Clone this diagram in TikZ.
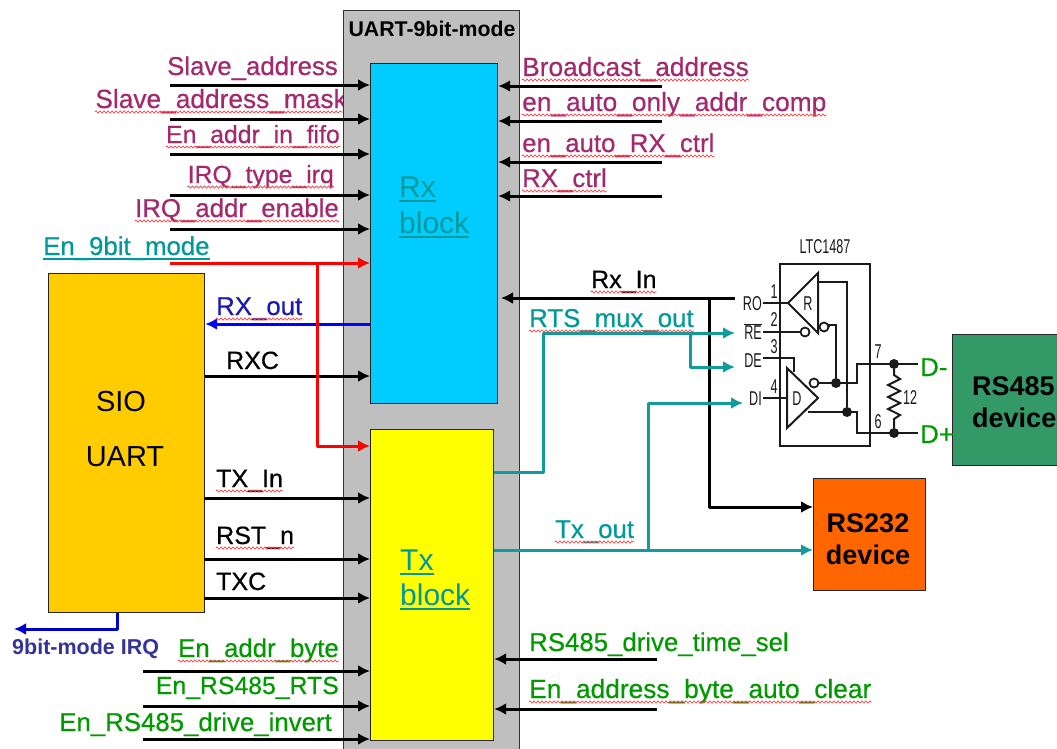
\documentclass[tikz,border=0pt]{standalone}
\usepackage{fontspec}
\setmainfont{Liberation Sans}
\newfontfamily\heavy[FakeBold=0.5]{Liberation Sans}
\usetikzlibrary{arrows.meta,decorations.pathmorphing}
\definecolor{lblpurple}{HTML}{A3286C}
\definecolor{lblgreen}{HTML}{009900}
\definecolor{lblteal}{HTML}{009999}
\definecolor{wireteal}{HTML}{119C9C}
\definecolor{lblblue}{HTML}{1A1AB3}
\definecolor{irqblue}{HTML}{333399}
\definecolor{chipink}{HTML}{1A1A1A}
\definecolor{rxfill}{HTML}{00CCFF}
\definecolor{txfill}{HTML}{FFFF00}
\definecolor{siofill}{HTML}{FFCC00}
\definecolor{rstwo}{HTML}{FF6600}
\definecolor{rsfour}{HTML}{339966}
\definecolor{bandfill}{HTML}{BFBFBF}
\tikzset{
  lbl/.style={inner sep=0pt,font=\heavy\fontsize{25.8}{26}\selectfont},
  big/.style={font=\heavy\fontsize{26.3}{26}\selectfont},
  small/.style={font=\heavy\fontsize{24.8}{25}\selectfont},
  lblk/.style={inner sep=0pt,anchor=base west,font=\heavy\fontsize{25}{25}\selectfont},
  lw/.style={lbl,anchor=base west},
  le/.style={lbl,anchor=base east},
  block/.style={draw=black!85,line width=1.2pt,inner sep=0pt,anchor=north west},
  arr/.style={line width=3pt,-{Latex[length=12pt,width=12pt]},line join=round},
  chip/.style={line width=2pt,chipink,line join=miter},
  chiptxt/.style={inner sep=0pt,chipink,font=\fontsize{20}{20}\selectfont},
  bubble/.style={circle,draw=chipink,line width=1.8pt,fill=white,minimum size=9pt,inner sep=0pt},
  jdot/.style={circle,fill=chipink,minimum size=10pt,inner sep=0pt},
  squig/.style={red!75,line width=.7pt,decorate,decoration={zigzag,segment length=4pt,amplitude=1.1pt}},
  bigtxt/.style={inner sep=0pt,anchor=base west,lblteal,font=\fontsize{30}{30}\selectfont},
  boldtxt/.style={inner sep=0pt,font=\bfseries\fontsize{27}{27}\selectfont},
  siotxt/.style={inner sep=0pt,anchor=base,font=\fontsize{29}{29}\selectfont},
}
\newcommand{\sq}[1]{\draw[squig] ([yshift=-4pt]#1.base west) -- ([yshift=-4pt]#1.base east);}
\newcommand{\ul}[2]{\draw[#1,line width=1.4pt] ([yshift=-4pt]#2.base west) -- ([yshift=-4pt]#2.base east);}
\newcommand{\nar}[1]{\scalebox{.63}[1]{#1}}
\begin{document}
\begin{tikzpicture}[x=1pt,y=-1pt]
\useasboundingbox (0,0) rectangle (1057,748);
% labels left of the gray band (clipped by it)
\node[le,lblpurple] (lsa) at (338,75) {Slave\_address};
\node[le,lblpurple,big] (lsm) at (347,108) {Slave\_address\_mask};
\node[le,lblpurple,small] (lfi) at (340,143) {En\_addr\_in\_fifo};
\node[le,lblpurple,small] (lit) at (334,183) {IRQ\_type\_irq};
\node[le,lblpurple] (lia) at (339,217) {IRQ\_addr\_enable};
\draw[squig] ([yshift=-4pt]lsm.base west) -- ([yshift=-4pt,xshift=-4pt]lsm.base east);
\sq{lfi}\sq{lit}\sq{lia}
% gray band
\node[draw=black!80,line width=1.2pt,fill=bandfill,minimum width=176pt,minimum height=760pt,inner sep=0pt,anchor=north west] (band) at (343,10) {};
\node[inner sep=0pt,anchor=base,font=\bfseries\fontsize{21.3}{21}\selectfont] (title) at (432,36) {UART-9bit-mode};
% blocks
\node[block,fill=rxfill,minimum width=127pt,minimum height=340pt] (rx) at (370,63) {};
\node[block,fill=txfill,minimum width=123pt,minimum height=311pt] (tx) at (370,429) {};
\node[block,fill=siofill,minimum width=156pt,minimum height=339pt] (sio) at (48,273) {};
\node[block,fill=rstwo,minimum width=112pt,minimum height=112pt] (rs232) at (813,478) {};
\node[block,fill=rsfour,minimum width=112pt,minimum height=131pt] (rs485) at (952,334) {};
% block texts
\node[bigtxt] (trx) at (399,197) {Rx}; \ul{lblteal}{trx}
\node[bigtxt] (trb) at (399,233) {block}; \ul{lblteal}{trb}
\node[bigtxt] (ttx) at (400,570) {Tx}; \ul{lblteal}{ttx}
\node[bigtxt] (ttb) at (400,605) {block}; \ul{lblteal}{ttb}
\node[siotxt] (tsio) at (121,411) {SIO};
\node[siotxt] (tuart) at (125,466) {UART};
\node[boldtxt,anchor=base] (t232a) at (868,532) {RS232};
\node[boldtxt,anchor=base] (t232b) at (868,564) {device};
\node[boldtxt,anchor=base west] (t485a) at (972,395) {RS485};
\node[boldtxt,anchor=base west] (t485b) at (972,427) {device};
% coordinates: free ends
\foreach \n/\yy in {a/85,b/119,c/154,d/195,e/229}{\coordinate (i\n) at (170,\yy);}
\foreach \n/\yy in {a/86,b/121,c/162,d/196}{\coordinate (r\n) at (662,\yy);}
\coordinate (ired) at (170,263);
\coordinate (redk) at (317,263);
\coordinate (redb) at (317,446);
\foreach \n/\yy in {a/671,b/706,c/739}{\coordinate (b\n) at (143,\yy);}
\coordinate (ta) at (657,659);
\coordinate (tb) at (657,709);
% arrows into Rx
\foreach \n in {a,b,c,d,e}{\draw[arr] (i\n) -- (i\n -| rx.west);}
\foreach \n in {a,b,c,d}{\draw[arr] (r\n) -- (r\n -| rx.east);}
% SIO <-> blocks
\coordinate (crxo) at (rx.west |- 0,324);
\draw[arr,blue] (crxo) -- (crxo -| sio.east);
\coordinate (crxc) at (sio.east |- 0,376);
\draw[arr] (crxc) -- (crxc -| rx.west);
\foreach \n/\yy in {p/498,q/559,s/598}{\coordinate (c\n) at (204,\yy);\draw[arr] (c\n) -- (c\n -| tx.west);}
% red enable
\draw[arr,red] (ired) -- (ired -| rx.west);
\draw[arr,red] (redk) -- (redb) -- (redb -| tx.west);
% bottom inputs
\foreach \n in {a,b,c}{\draw[arr] (b\n) -- (b\n -| tx.west);}
\draw[arr] (ta) -- (ta -| tx.east);
\draw[arr] (tb) -- (tb -| tx.east);
% IRQ
\coordinate (irqk) at (117,629);
\coordinate (irqe) at (14,629);
\draw[arr,blue!80!black] (irqk |- sio.south) -- (irqk) -- (irqe);
% LTC chip
\node[draw=chipink,line width=2.2pt,minimum width=90pt,minimum height=182pt,inner sep=0pt,anchor=north west] (ltc) at (779,263) {};
\node[chiptxt,anchor=base] (ltcname) at (825,253) {\nar{LTC1487}};
\coordinate (pro) at (763,303);
\coordinate (pre) at (763,332);
\coordinate (pde) at (763,358);
\coordinate (pdi) at (763,398);
\node[chiptxt,anchor=base east] (lro) at (762,310) {\nar{RO}};
\node[chiptxt,anchor=base east] (lre) at (762,339) {\nar{$\overline{\mbox{RE}}$}};
\node[chiptxt,anchor=base east] (lde) at (762,367) {\nar{DE}};
\node[chiptxt,anchor=base east] (ldi) at (762,405) {\nar{DI}};
\node[chiptxt,anchor=base] (n1) at (774,298) {\nar{1}};
\node[chiptxt,anchor=base] (n2) at (774,326) {\nar{2}};
\node[chiptxt,anchor=base] (n3) at (774,353) {\nar{3}};
\node[chiptxt,anchor=base] (n4) at (774,393) {\nar{4}};
\draw[chip] (788,303) -- (818,273) -- (818,333) -- cycle;
\draw[chip] (787,368) -- (787,428) -- (818,398) -- cycle;
\node[chiptxt,anchor=center] (lr) at (808,304) {\nar{R}};
\node[chiptxt,anchor=center] (ld) at (797,399) {\nar{D}};
\draw[chip] (pro) -- (788,303);
\draw[chip] (pre) -- (801,332);
\draw[chip] (pde) -- (794,358) -- (794,372);
\draw[chip] (pdi) -- (787,398);
\node[bubble] (b1) at (805,332) {};
\node[bubble] (b2) at (824,327) {};
\node[bubble] (b3) at (814,383) {};
\node[jdot] (j1) at (836,383) {};
\node[jdot] (j2) at (847,412) {};
\node[jdot] (j3) at (894,364) {};
\node[jdot] (j4) at (894,433) {};
\coordinate (dm) at (918,364);
\coordinate (dp) at (918,433);
\draw[chip] (818,282) -- (847,282) -- (j2);
\draw[chip] (b2.east) -- ++(0,-2) -- (836,325) -- (j1);
\draw[chip] (b3.east) -- (857,383) -- (857,364) -- (dm);
\draw[chip] (808,412) -- (857,412) -- (857,433) -- (dp);
\draw[chip] (j3) -- (894,375) -- (900,379) -- (888,385) -- (900,391) -- (888,397) -- (900,403) -- (888,409) -- (900,415) -- (894,419) -- (j4);
\node[chiptxt,anchor=center] (n12) at (910,398) {\nar{12}};
\node[chiptxt,anchor=center] (n7) at (878,352) {\nar{7}};
\node[chiptxt,anchor=center] (n6) at (878,422) {\nar{6}};
\node[lw,lblgreen] (ldm) at (920,376) {D-};
\node[lw,lblgreen] (ldp) at (920,443) {D+};
% Rx_In / RS232
\coordinate (rxin) at (735,298);
\coordinate (rxtip) at (501,298);
\coordinate (rxj) at (709,298);
\coordinate (rxb) at (709,507);
\draw[arr] (rxin) -- (rxtip);
\draw[arr] (rxj) -- (rxb) -- (rxb -| rs232.west);
% teal wires
\coordinate (rtsa) at (tx.east |- 0,472);
\coordinate (rtsb) at (543,472);
\coordinate (rtsc) at (543,333);
\coordinate (rtsd) at (735,333);
\coordinate (rtse) at (690,333);
\coordinate (rtsf) at (690,367);
\coordinate (rtsg) at (735,367);
\draw[arr,wireteal] (rtsa) -- (rtsb) -- (rtsc) -- (rtsd);
\draw[arr,wireteal] (rtse) -- (rtsf) -- (rtsg);
\coordinate (txa) at (tx.east |- 0,550);
\coordinate (txj) at (648,550);
\coordinate (txk) at (648,403);
\coordinate (txl) at (743,403);
\draw[arr,wireteal] (txa) -- (txa -| rs232.west);
\draw[arr,wireteal] (txj) -- (txk) -- (txl);
% labels
\node[lw,lblteal] (l9) at (43,255) {En\_9bit\_mode}; \ul{lblteal}{l9}
\node[lw,lblblue] (lrxo) at (216,315) {RX\_out}; \sq{lrxo}
\node[lblk] (lrxc) at (226,369) {RXC};
\node[lblk] (ltxi) at (216,487) {TX\_In}; \sq{ltxi}
\node[lblk] (lrst) at (216,544) {RST\_n}; \sq{lrst}
\node[lblk] (ltxc) at (216,590) {TXC};
\node[lw,lblpurple,big] (lba) at (522,76) {Broadcast\_address}; \sq{lba}
\node[lw,lblpurple,big] (leo) at (522,111) {en\_auto\_only\_addr\_comp}; \sq{leo}
\node[lw,lblpurple] (ler) at (522,152) {en\_auto\_RX\_ctrl}; \sq{ler}
\node[lw,lblpurple] (lrc) at (522,187) {RX\_ctrl}; \sq{lrc}
\node[lblk] (lrin) at (591,288) {Rx\_In}; \sq{lrin}
\node[lw,lblteal] (lrts) at (529,327) {RTS\_mux\_out}; \sq{lrts}
\node[lw,lblteal] (ltxo) at (555,538) {Tx\_out}; \sq{ltxo}
\node[lw,lblgreen] (ldt) at (529,651) {RS485\_drive\_time\_sel};
\node[lw,lblgreen,big] (lab) at (529,698) {En\_address\_byte\_auto\_clear}; \sq{lab}
\node[le,lblgreen] (lea) at (339,657) {En\_addr\_byte}; \sq{lea}
\node[le,lblgreen,small] (ler2) at (339,694) {En\_RS485\_RTS};
\node[le,lblgreen] (lei) at (332,731) {En\_RS485\_drive\_invert};
\node[inner sep=0pt,anchor=base west,irqblue,font=\bfseries\fontsize{21.5}{21}\selectfont] (lirq) at (12,654) {9bit-mode IRQ};
\end{tikzpicture}
\end{document}
